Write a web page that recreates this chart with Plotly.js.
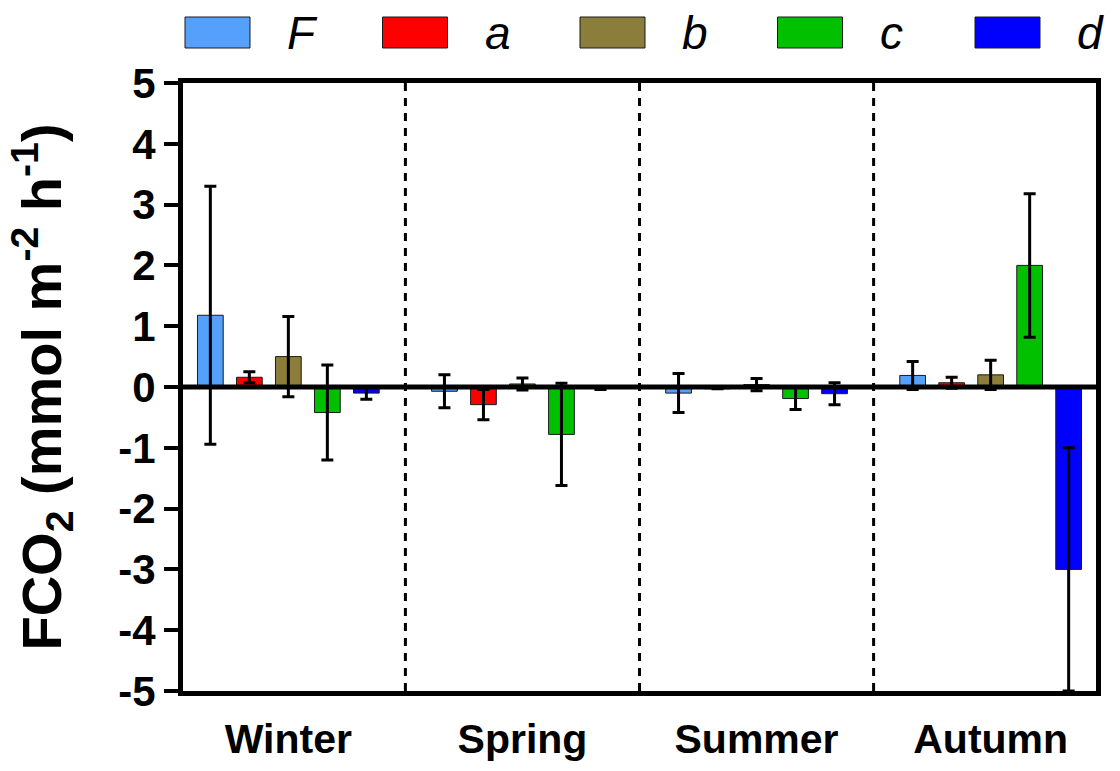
<!DOCTYPE html>
<html>
<head>
<meta charset="utf-8">
<script src="https://cdn.plot.ly/plotly-3.0.1.min.js"></script>
<style>html,body{margin:0;padding:0;background:#fff;}#chart{width:1120px;height:771px;}</style>
</head>
<body>
<div id="chart"></div>
<script>
// ---- data ----
const seasons = ["Winter", "Spring", "Summer", "Autumn"];
const seriesNames = ["F", "a", "b", "c", "d"];
const seriesColors = ["#55A0FB", "#FF0000", "#8B7D3A", "#00C000", "#0000FF"];
const valF = [1.18, -0.07, -0.10, 0.19];
const errF = [2.12, 0.27, 0.32, 0.23];
const valA = [0.16, -0.29, -0.03, 0.07];
const errA = [0.09, 0.25, 0.00, 0.09];
const valB = [0.50, 0.05, 0.04, 0.20];
const errB = [0.66, 0.10, 0.10, 0.24];
const valC = [-0.42, -0.78, -0.19, 2.00];
const errC = [0.78, 0.84, 0.18, 1.18];
const valD = [-0.10, -0.02, -0.11, -3.00];
const errD = [0.10, 0.02, 0.18, 2.00];
const yTicks = [-5, -4, -3, -2, -1, 0, 1, 2, 3, 4, 5];
const dividers = [0.5, 1.5, 2.5];

const values = [valF, valA, valB, valC, valD];
const errors = [errF, errA, errB, errC, errD];

// ---- layout geometry ----
const W = 1120, H = 771;
const M = {l: 183, r: 24, t: 83, b: 80};
const plotW = W - M.l - M.r, plotH = H - M.t - M.b;
const px2x = px => (px - M.l) / plotW;
const py2y = py => 1 + (M.t - py) / plotH;

const traces = seriesNames.map((name, i) => ({
  type: "bar",
  name: name,
  x: seasons.map((s, k) => k),
  y: values[i],
  marker: {color: seriesColors[i], line: {color: "#1a1a1a", width: 1}},
  error_y: {type: "data", array: errors[i], visible: true, color: "#000", thickness: 3, width: 6},
  cliponaxis: true,
  showlegend: false
}));

const shapes = [];
dividers.forEach(d => shapes.push({
  type: "line", xref: "x", yref: "paper", x0: d, x1: d, y0: 0, y1: 1,
  line: {color: "#000", width: 3, dash: "8px,7px"}, layer: "below"
}));
shapes.push({type: "line", xref: "paper", yref: "y", x0: 0, x1: 1, y0: 0, y1: 0,
  line: {color: "#000", width: 5}, layer: "above"});

// manual legend built from series arrays
const annotations = [];
seriesNames.forEach((name, i) => {
  const left = 185 + 197.5 * i;
  shapes.push({type: "rect", xref: "paper", yref: "paper",
    x0: px2x(left), x1: px2x(left + 65), y0: py2y(48), y1: py2y(17),
    fillcolor: seriesColors[i], line: {color: "#1a1a1a", width: 1}});
  annotations.push({xref: "paper", yref: "paper", x: px2x(left + 100), y: py2y(33),
    xanchor: "left", yanchor: "middle", showarrow: false, text: name,
    font: {family: "Liberation Sans", size: 46, style: "italic", color: "#000"}});
});

const layout = {
  width: W, height: H,
  margin: M,
  paper_bgcolor: "#fff", plot_bgcolor: "#fff",
  barmode: "group", bargap: 0.167, bargroupgap: 0.34,
  showlegend: false,
  xaxis: {
    range: [-0.45, 3.45],
    tickmode: "array", tickvals: seasons.map((s, k) => k), ticktext: seasons,
    ticks: "", ticklabelstandoff: 8,
    showline: true, linecolor: "#000", linewidth: 5, mirror: true,
    showgrid: false, zeroline: false,
    tickfont: {family: "Liberation Sans", size: 41, weight: "bold", color: "#000"}
  },
  yaxis: {
    range: [-5, 5],
    tickmode: "array", tickvals: yTicks, ticktext: yTicks.map(String),
    ticks: "outside", ticklen: 14, tickwidth: 4, tickcolor: "#000",
    showline: true, linecolor: "#000", linewidth: 5, mirror: true,
    showgrid: false, zeroline: false,
    tickfont: {family: "Liberation Sans", size: 42, weight: "bold", color: "#000"},
    title: {text: "FCO<sub>2</sub> (mmol m<sup>-2</sup> h<sup>-1</sup>)", standoff: 40,
      font: {family: "Liberation Sans", size: 56, weight: "bold", color: "#000"}}
  },
  shapes: shapes,
  annotations: annotations
};

Plotly.newPlot("chart", traces, layout, {displayModeBar: false, staticPlot: true});
</script>
</body>
</html>
